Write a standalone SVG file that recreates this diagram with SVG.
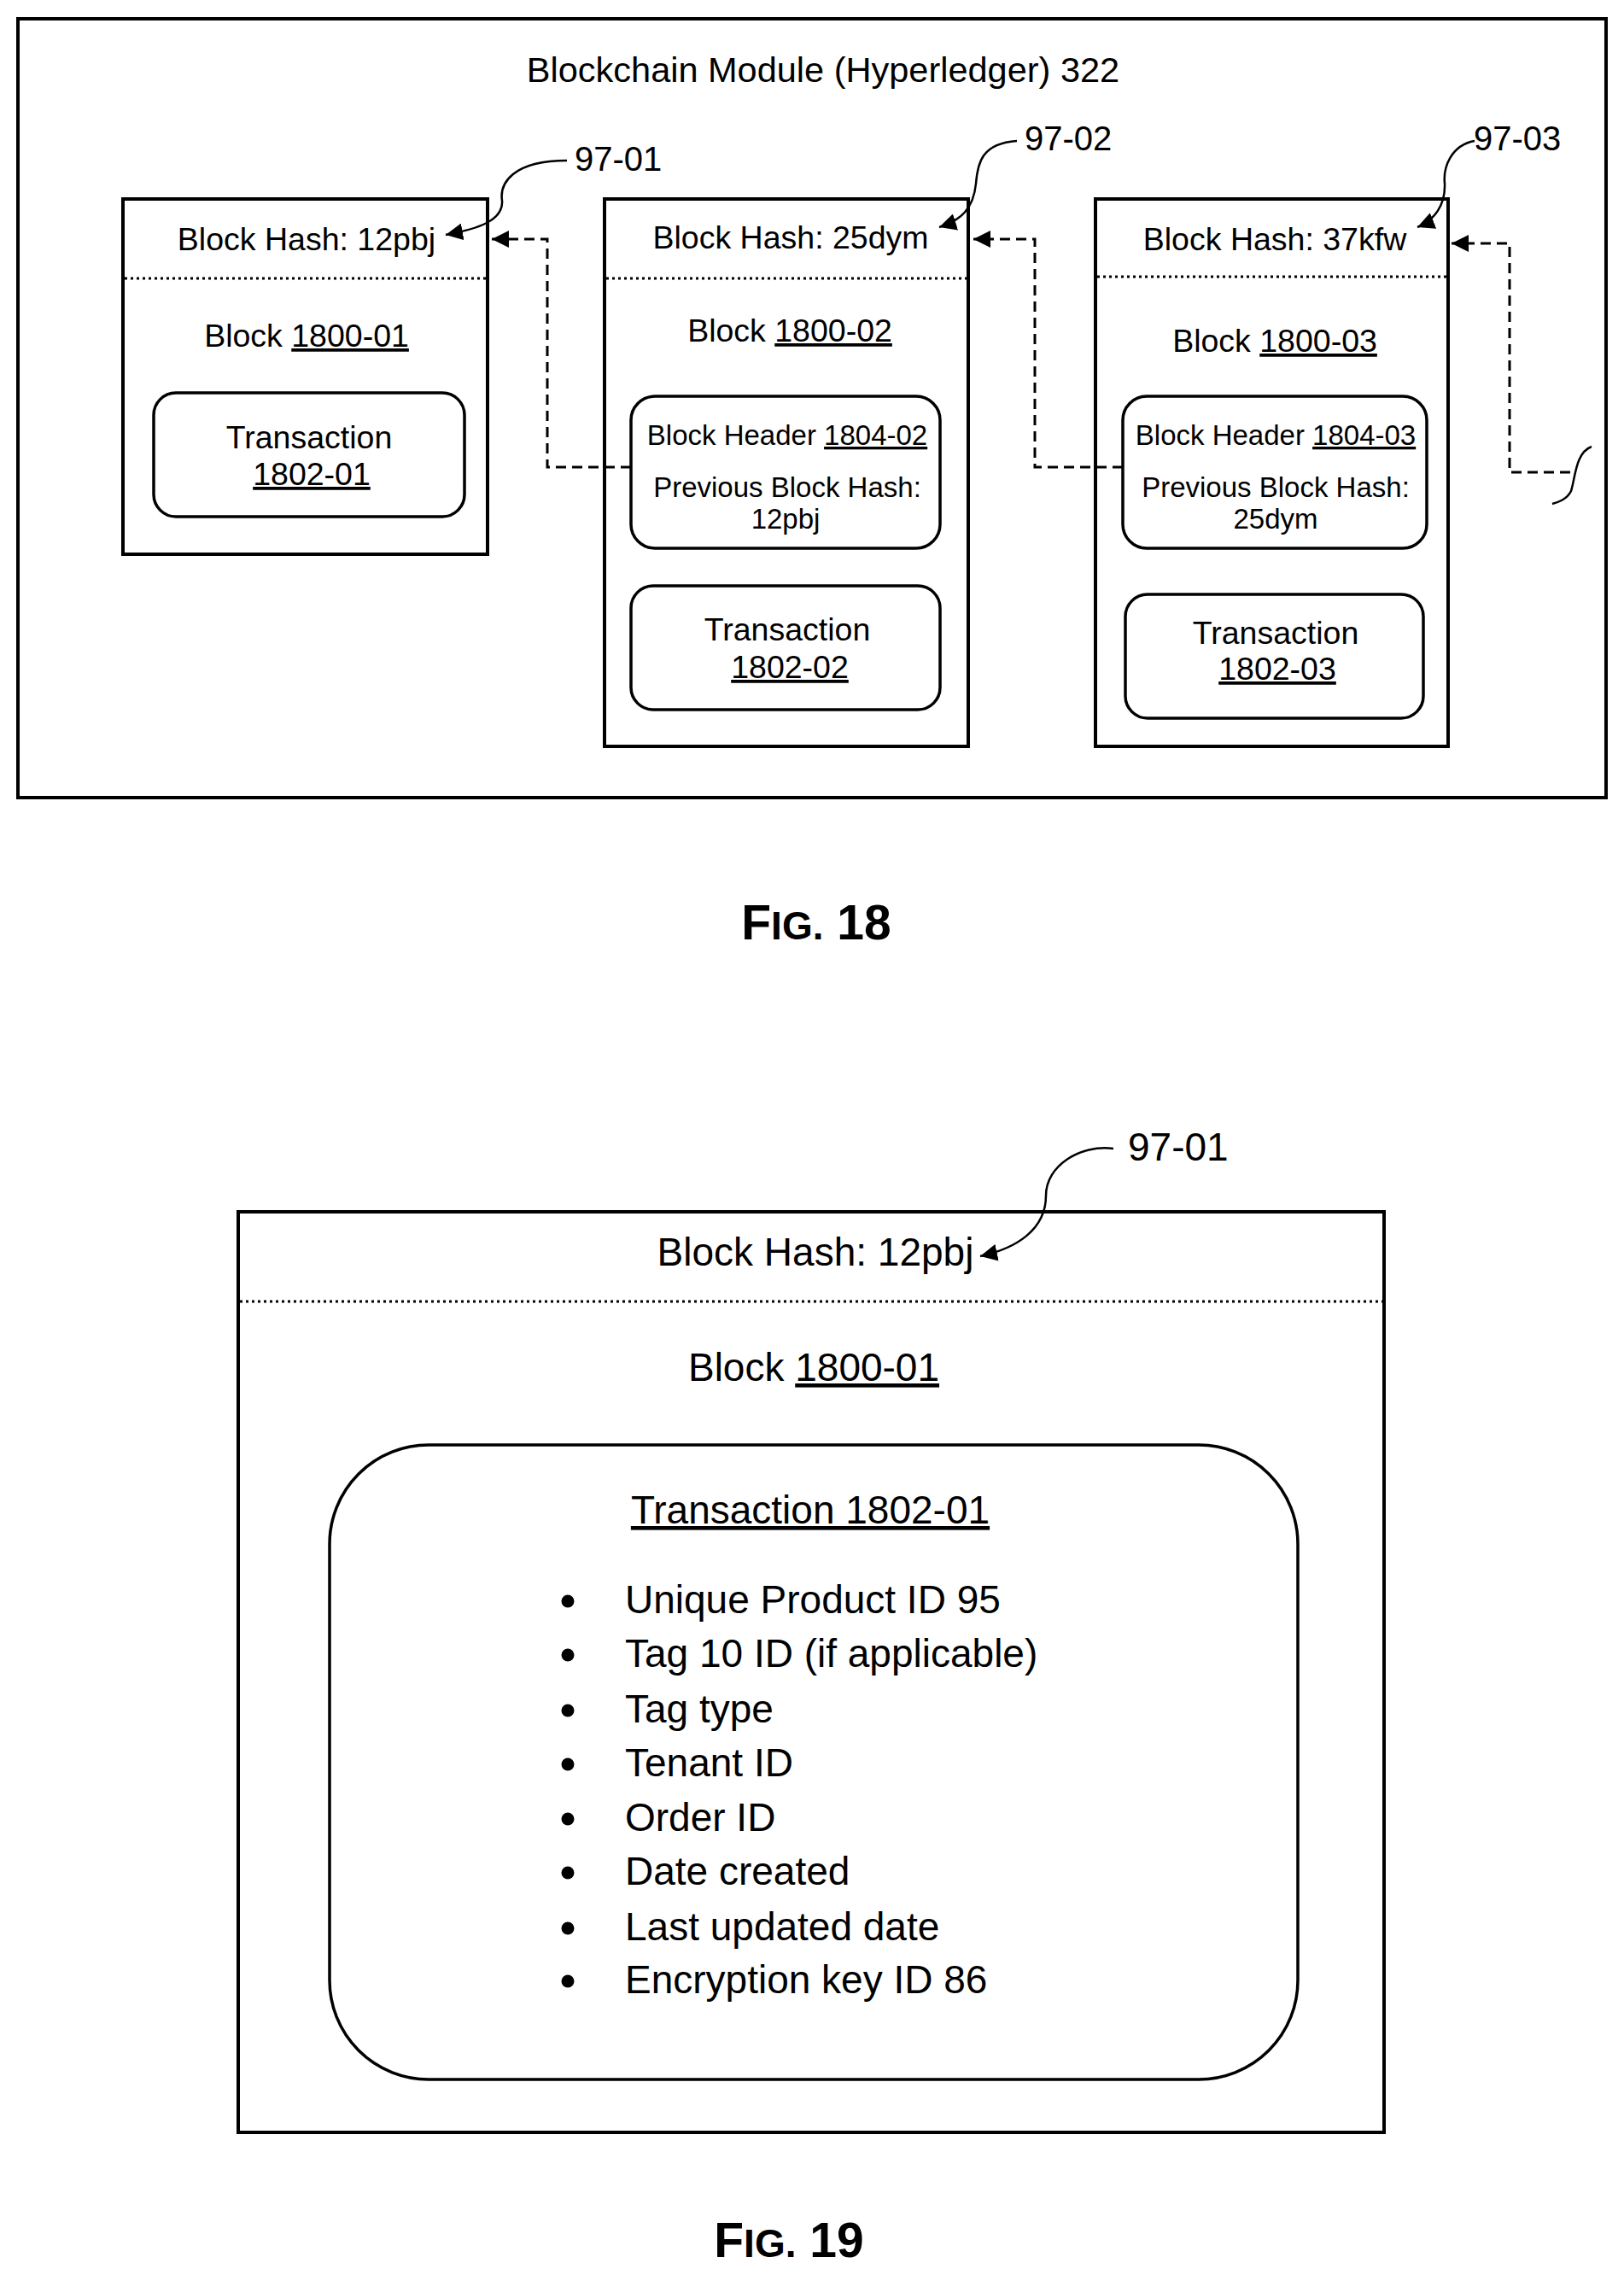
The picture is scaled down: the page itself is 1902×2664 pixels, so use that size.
<svg xmlns="http://www.w3.org/2000/svg" width="1902" height="2664" viewBox="0 0 1902 2664">
<style>
text{font-family:"Liberation Sans",Arial,sans-serif;fill:#000}
.t{font-size:37.5px;text-anchor:middle}
.s{font-size:33px;text-anchor:middle}
.l{font-size:40px}
.b{font-size:46px}
.box{fill:none;stroke:#000;stroke-width:4}
.rb{fill:none;stroke:#000;stroke-width:3.5}
.dot{stroke:#000;stroke-width:3;stroke-dasharray:3 4;fill:none}
.dash{stroke:#000;stroke-width:3;stroke-dasharray:12 7;fill:none}
.lead{stroke:#000;stroke-width:2.5;fill:none}
.fig{font-weight:bold;text-anchor:middle}
</style>
<defs>
<marker id="ah2" viewBox="0 0 10 10" refX="10" refY="5" markerWidth="20" markerHeight="20" markerUnits="userSpaceOnUse" orient="auto"><path d="M0,0 L10,5 L0,10 z" fill="#000"/></marker>
</defs>
<rect width="1902" height="2664" fill="#fff"/>
<g id="module">
<rect class="box" x="21" y="22" width="1860" height="912"/>
<text x="964" y="96" style="font-size:41.5px;text-anchor:middle">Blockchain Module (Hyperledger) 322</text>
</g>
<g id="block1">
<rect class="box" x="144" y="233" width="427" height="416"/>
<line class="dot" x1="146" y1="326" x2="569" y2="326"/>
<text class="t" x="359" y="293">Block Hash: 12pbj</text>
<text class="t" x="359" y="406">Block <tspan text-decoration="underline">1800-01</tspan></text>
<rect class="rb" x="180" y="460" width="364" height="145" rx="26"/>
<text class="t" x="362" y="525">Transaction</text>
<text class="t" x="365" y="568" text-decoration="underline">1802-01</text>
</g>
<g id="block2">
<rect class="box" x="708" y="233" width="426" height="641"/>
<line class="dot" x1="710" y1="326" x2="1132" y2="326"/>
<text class="t" x="926" y="291">Block Hash: 25dym</text>
<text class="t" x="925" y="400">Block <tspan text-decoration="underline">1800-02</tspan></text>
<rect class="rb" x="739" y="464" width="362" height="178" rx="28"/>
<text class="s" x="922" y="521">Block Header <tspan text-decoration="underline">1804-02</tspan></text>
<text class="s" x="922" y="582">Previous Block Hash:</text>
<text class="s" x="920" y="619">12pbj</text>
<rect class="rb" x="739" y="686" width="362" height="145" rx="26"/>
<text class="t" x="922" y="750">Transaction</text>
<text class="t" x="925" y="794" text-decoration="underline">1802-02</text>
</g>
<g id="block3">
<rect class="box" x="1283" y="233" width="413" height="641"/>
<line class="dot" x1="1285" y1="324" x2="1694" y2="324"/>
<text class="t" x="1493" y="293">Block Hash: 37kfw</text>
<text class="t" x="1493" y="412">Block <tspan text-decoration="underline">1800-03</tspan></text>
<rect class="rb" x="1315" y="464" width="356" height="178" rx="28"/>
<text class="s" x="1494" y="521">Block Header <tspan text-decoration="underline">1804-03</tspan></text>
<text class="s" x="1494" y="582">Previous Block Hash:</text>
<text class="s" x="1494" y="619">25dym</text>
<rect class="rb" x="1318" y="696" width="349" height="145" rx="26"/>
<text class="t" x="1494" y="754">Transaction</text>
<text class="t" x="1496" y="796" text-decoration="underline">1802-03</text>
</g>
<g id="labels18">
<text class="l" x="673" y="200">97-01</text>
<text class="l" x="1200" y="176">97-02</text>
<text class="l" x="1726" y="176">97-03</text>
</g>
<g id="connectors">
<path class="lead" d="M664,188 C600,188 585,215 588,235 C590,258 560,268 522,275" marker-end="url(#ah2)"/>
<path class="lead" d="M1191,165 C1150,168 1145,190 1143,215 C1140,245 1125,258 1100,266" marker-end="url(#ah2)"/>
<path class="lead" d="M1727,165 C1700,170 1690,195 1692,215 C1693,240 1680,258 1660,266" marker-end="url(#ah2)"/>
<path class="dash" d="M739,547 H641 V280 H576" marker-end="url(#ah2)"/>
<path class="dash" d="M1315,547 H1212 V280 H1140" marker-end="url(#ah2)"/>
<path class="dash" d="M1839,553 H1768 V285 H1700" marker-end="url(#ah2)"/>
<path class="lead" d="M1864,523 C1845,530 1845,560 1840,575 C1835,585 1825,588 1818,590"/>
</g>
<g id="fig18">
<text class="fig" x="956" y="1100"><tspan font-size="57">F</tspan><tspan font-size="46">IG.</tspan><tspan font-size="57"> 18</tspan></text>
</g>
<g id="block19">
<rect class="box" x="279" y="1419" width="1342" height="1078"/>
<line class="dot" x1="281" y1="1524" x2="1619" y2="1524"/>
<text class="b" x="955" y="1482" text-anchor="middle">Block Hash: 12pbj</text>
<text class="b" x="953" y="1617" text-anchor="middle">Block <tspan text-decoration="underline">1800-01</tspan></text>
<rect class="rb" x="386" y="1692" width="1134" height="743" rx="116"/>
<text class="b" x="949" y="1784" text-anchor="middle" text-decoration="underline">Transaction 1802-01</text>
<circle cx="665" cy="1875" r="7.5"/><text class="b" x="732" y="1889">Unique Product ID 95</text>
<circle cx="665" cy="1938" r="7.5"/><text class="b" x="732" y="1952">Tag 10 ID (if applicable)</text>
<circle cx="665" cy="2003" r="7.5"/><text class="b" x="732" y="2017">Tag type</text>
<circle cx="665" cy="2066" r="7.5"/><text class="b" x="732" y="2080">Tenant ID</text>
<circle cx="665" cy="2130" r="7.5"/><text class="b" x="732" y="2144">Order ID</text>
<circle cx="665" cy="2193" r="7.5"/><text class="b" x="732" y="2207">Date created</text>
<circle cx="665" cy="2258" r="7.5"/><text class="b" x="732" y="2272">Last updated date</text>
<circle cx="665" cy="2320" r="7.5"/><text class="b" x="732" y="2334">Encryption key ID 86</text>
<text class="b" x="1321" y="1359">97-01</text>
<path class="lead" d="M1304,1345 C1265,1340 1225,1365 1225,1400 C1225,1440 1190,1462 1148,1471" marker-end="url(#ah2)"/>
</g>
<g id="fig19">
<text class="fig" x="924" y="2643"><tspan font-size="57">F</tspan><tspan font-size="46">IG.</tspan><tspan font-size="57"> 19</tspan></text>
</g>
</svg>
